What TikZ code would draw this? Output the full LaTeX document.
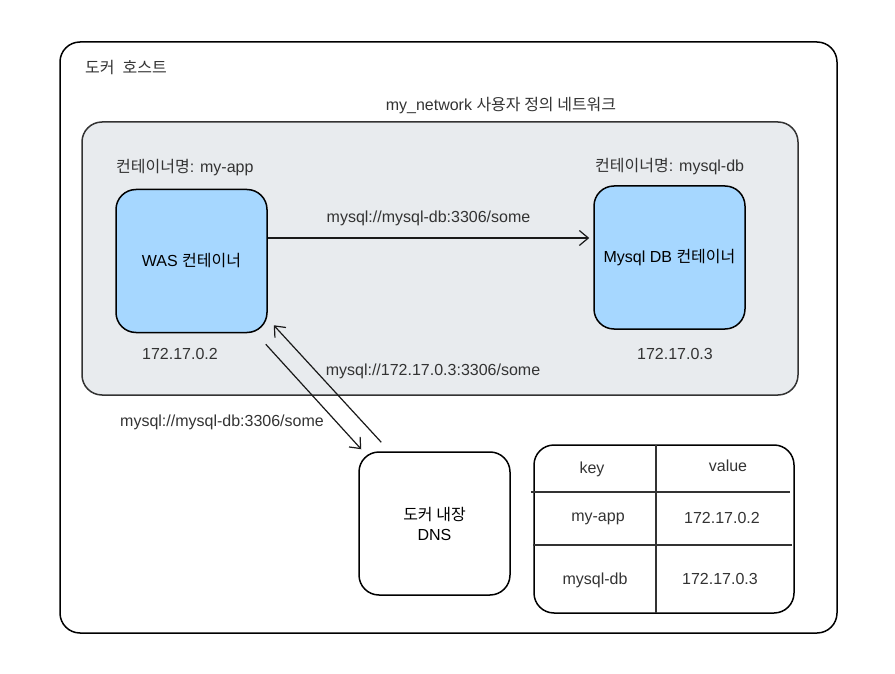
\documentclass[tikz,border=0pt]{standalone}
\usepackage{fontspec}
\setmainfont{Liberation Sans}
\newfontfamily\ko{Noto Sans CJK KR}[Scale=1.0]
\usetikzlibrary{arrows.meta,calc}
\definecolor{netgray}{HTML}{E8EBEE}
\definecolor{wasblue}{HTML}{A6D7FF}
\definecolor{ink}{HTML}{333333}
\tikzset{
  box/.style={draw=black, line width=1.5pt, rounded corners=20pt, inner sep=0pt, align=center},
  ctr/.style={box, fill=wasblue, minimum width=151pt, minimum height=143pt},
  lbl/.style={text=ink, inner sep=0pt},
  link/.style={draw=black!90, line width=1.2pt, -{Straight Barb[length=9pt,width=15pt,line width=1.2pt]}}
}
\begin{document}
\begin{tikzpicture}[x=1pt,y=-1pt,font=\fontsize{16}{20}\selectfont]
  \useasboundingbox (0,0) rectangle (895,674);
  % host and network
  \node[box, minimum width=777pt, minimum height=591pt] (host) at (448.5,337.5) {};
  \node[box, draw=ink, fill=netgray, minimum width=716pt, minimum height=273pt] (net) at (440,258.5) {};
  \node[lbl, anchor=west] (hostname) at (85,68) {{\ko 도커}\hspace{8pt}{\ko 호스트}};
  \node[lbl] (netname) at (501,106) {my\_network {\ko 사용자 정의 네트워크}};
  % containers
  \node[ctr] (was) at (191.5,261) {WAS {\ko 컨테이너}};
  \node[ctr] (db) at (669.5,257.5) {Mysql DB {\ko 컨테이너}};
  \node[lbl, anchor=west] (wasname) at (116,168) {{\ko 컨테이너명}: my-app};
  \node[lbl, anchor=west] (dbname) at (595,167) {{\ko 컨테이너명}: mysql-db};
  \node[lbl] (wasip) at (180,354) {172.17.0.2};
  \node[lbl] (dbip) at (675,354) {172.17.0.3};
  \node[box, minimum width=151pt, minimum height=143pt] (dns) at (434.5,523.5) {{\ko 도커 내장}\\DNS};
  % links
  \draw[link] ([yshift=23pt]was.east) -- node[lbl, above=12pt] (q1) {mysql://mysql-db:3306/some} ([xshift=-4pt,yshift=19.5pt]db.west);
  \draw[link] ([shift={(-2,11)}]was.south east) -- ([shift={(3,-2)}]dns.north west);
  \draw[link] ([shift={(23,-9)}]dns.north west) -- ([shift={(6,-8)}]was.south east);
  \node[lbl] (q2) at (433,371) {mysql://172.17.0.3:3306/some};
  \node[lbl] (q3) at (222,422) {mysql://mysql-db:3306/some};
  % dns table
  \node[box, minimum width=260pt, minimum height=168pt] (tbl) at (664,529) {};
  \begin{scope}[draw=ink, line width=1.3pt]
    \draw (656,445) -- (656,613);
    \draw (531,492) -- (790,492);
    \draw (533,545) -- (792,545);
  \end{scope}
  \node[lbl] (k0) at (592,469) {key};
  \node[lbl] (v0) at (728,466) {value};
  \node[lbl] (k1) at (598,519) {my-app};
  \node[lbl] (v1) at (722,518) {172.17.0.2};
  \node[lbl] (k2) at (595,580) {mysql-db};
  \node[lbl] (v2) at (720,579) {172.17.0.3};
\end{tikzpicture}
\end{document}
